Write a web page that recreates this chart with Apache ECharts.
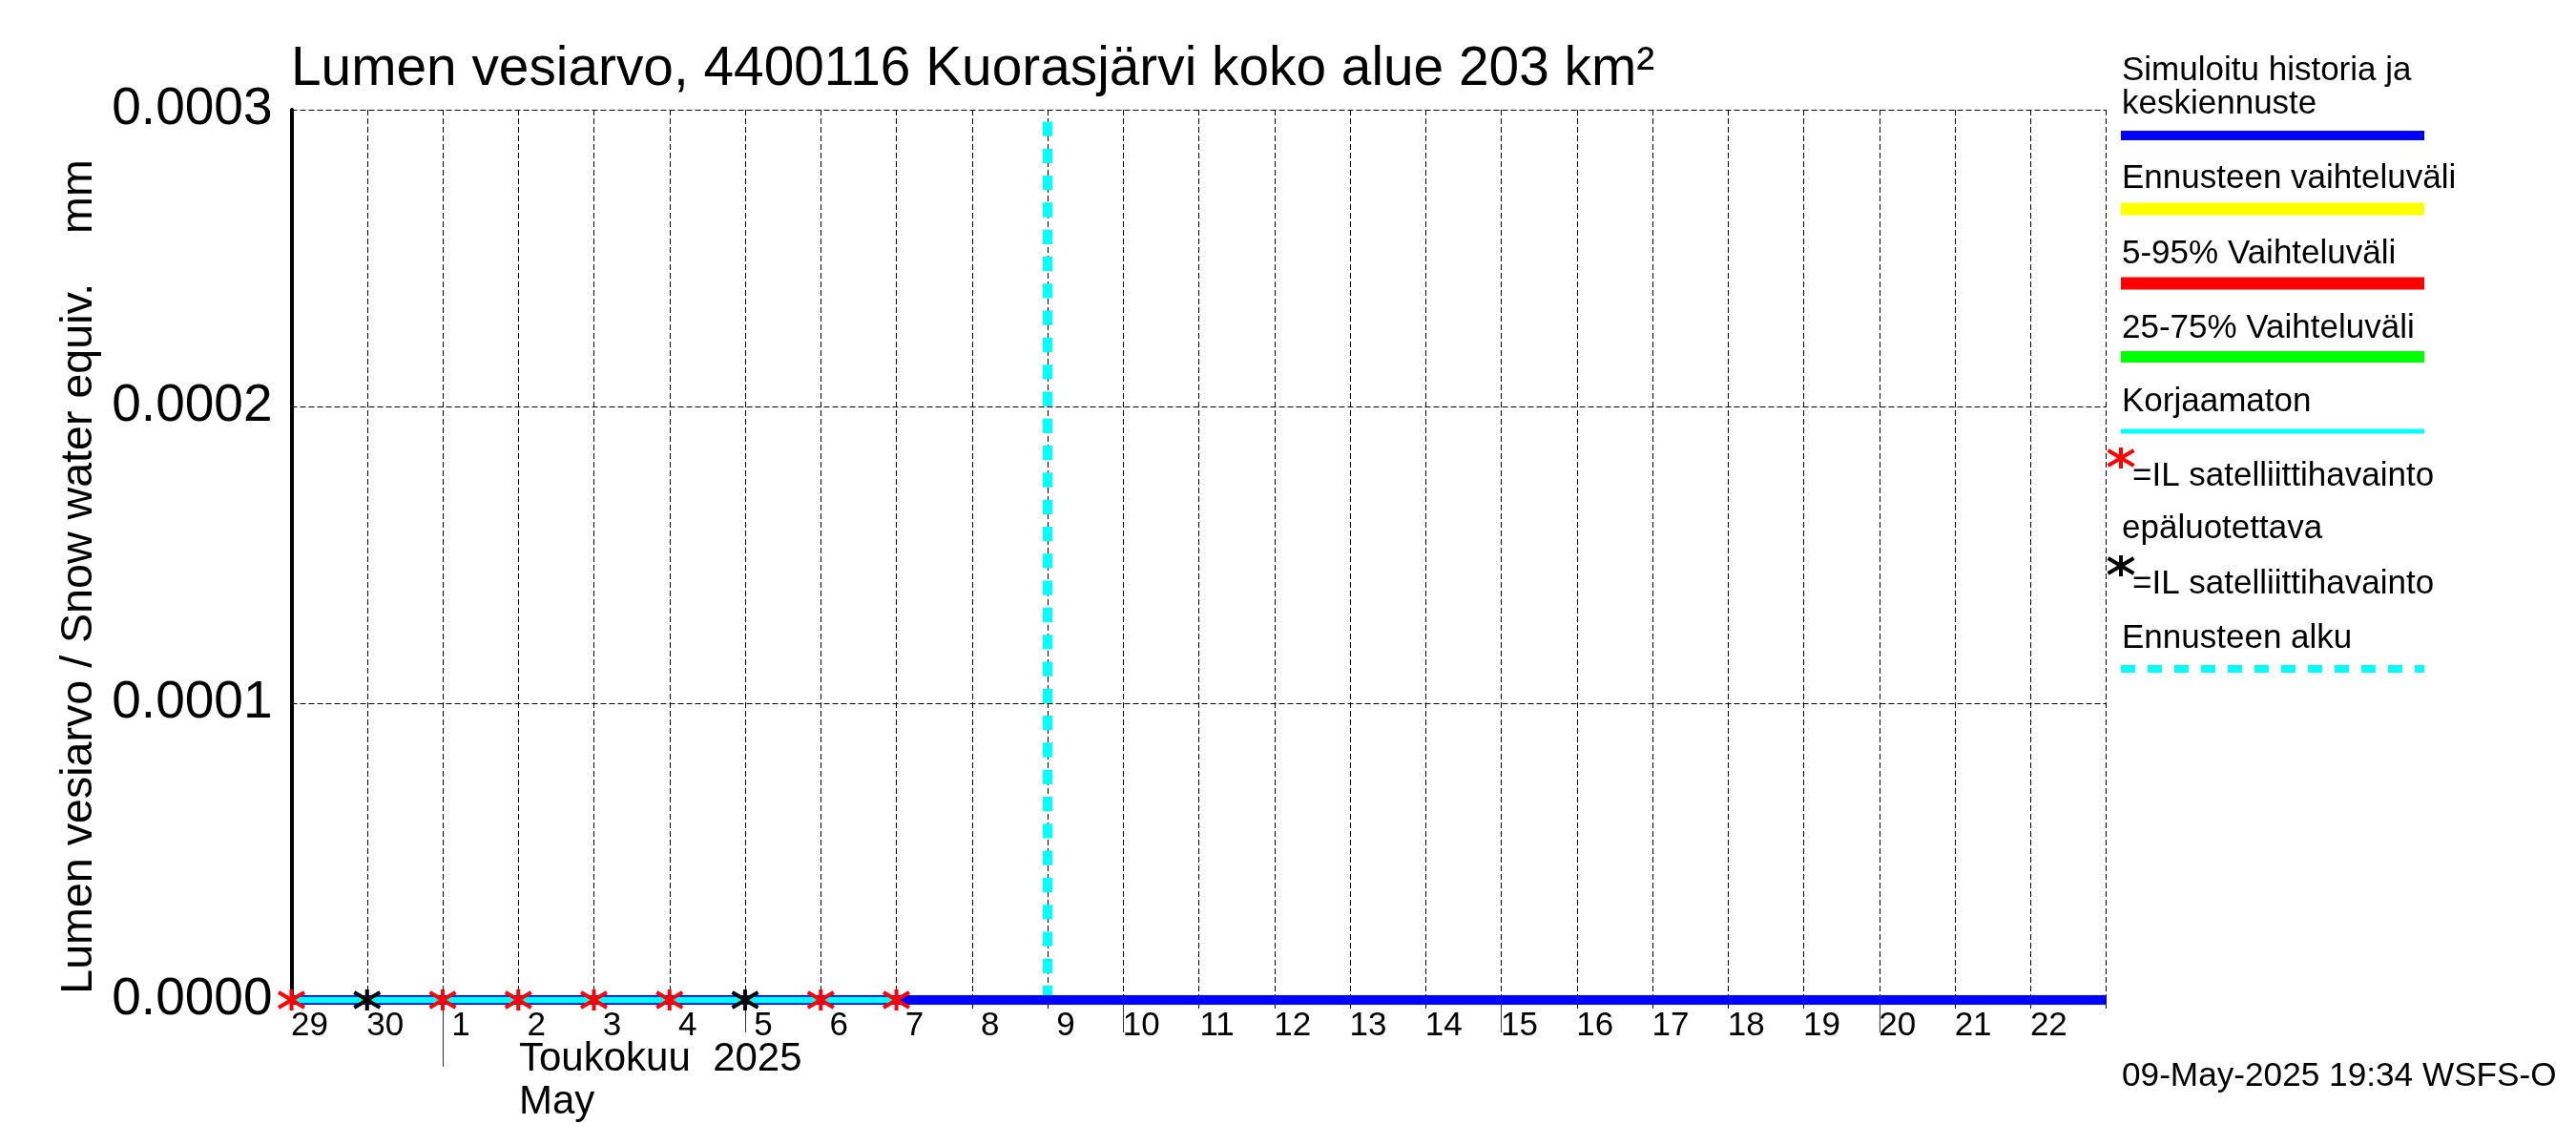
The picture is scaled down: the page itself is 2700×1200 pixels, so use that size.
<!DOCTYPE html>
<html>
<head>
<meta charset="utf-8">
<title>Lumen vesiarvo</title>
<script src="https://cdn.jsdelivr.net/npm/echarts@6/dist/echarts.min.js"></script>
<style>
  html, body { margin: 0; padding: 0; background: #fff; }
  #chart { width: 2700px; height: 1200px; }
</style>
</head>
<body>
<div id="chart"></div>
<script>
const titleText = 'Lumen vesiarvo, 4400116 Kuorasjärvi koko alue 203 km²';
const yAxisName = 'Lumen vesiarvo / Snow water equiv.    mm';
const stampText = '09-May-2025 19:34 WSFS-O';
const monthLabels = ['Toukokuu  2025', 'May'];

const days = ['29', '30', '1', '2', '3', '4', '5', '6', '7', '8', '9', '10', '11',
  '12', '13', '14', '15', '16', '17', '18', '19', '20', '21', '22', ''];

const simulated = [0, 0, 0, 0, 0, 0, 0, 0, 0, 0, 0, 0, 0, 0, 0, 0, 0, 0, 0, 0, 0, 0, 0, 0, 0];
const uncorrected = [0, 0, 0, 0, 0, 0, 0, 0, 0];
const satellite = [0, null, 0, 0, 0, 0, null, 0, 0];
const satelliteUnreliable = [null, 0, null, null, null, null, 0];
const forecastDay = '9';
const forecastTop = 0.000296;

const monthStartDays = ['1'];
const fiveDayTicks = ['5', '10', '15', '20'];

const legendTexts = [
  'Simuloitu historia ja', 'keskiennuste', 'Ennusteen vaihteluväli', '5-95% Vaihteluväli',
  '25-75% Vaihteluväli', 'Korjaamaton', '=IL satelliittihavainto', 'epäluotettava',
  '=IL satelliittihavainto', 'Ennusteen alku'
];

const FONT = '"Liberation Sans", Arial, sans-serif';
const chart = echarts.init(document.getElementById('chart'));

// Legend is laid out by hand, the original is not a regular grid
const legendTextPos = [
  [2224, 83], [2224, 118], [2224, 196], [2224, 275], [2224, 353],
  [2224, 430], [2235, 508], [2224, 563], [2235, 621], [2224, 678]
];
const legendLines = [
  { y: 142, w: 10, c: '#0000ff' },
  { y: 219, w: 13, c: '#ffff00' },
  { y: 297, w: 13, c: '#ff0000' },
  { y: 374, w: 12, c: '#00ff00' },
  { y: 452, w: 5, c: '#00ffff' },
  { y: 701, w: 8, c: '#00ffff', dash: [15, 13] }
];
const legendStars = [
  { y: 480, c: '#ff0000' },
  { y: 593, c: '#000000' }
];

// y is the text baseline
function textEl(text, x, y, size) {
  return {
    type: 'text',
    x: x,
    y: y - size * 0.75,
    silent: true,
    style: { text: text, fill: '#000', font: size + 'px ' + FONT }
  };
}

function lineEl(x1, y1, x2, y2, color, width, dash) {
  return {
    type: 'line',
    silent: true,
    shape: { x1: x1, y1: y1, x2: x2, y2: y2 },
    style: { stroke: color, lineWidth: width, lineDash: dash || null }
  };
}

// Six armed star, same shape in the plot and in the legend
function starLines(x, y, color) {
  return [
    lineEl(x, y - 11, x, y + 11, color, 4),
    lineEl(x - 13.5, y - 8, x + 13.5, y + 8, color, 4),
    lineEl(x - 13.5, y + 8, x + 13.5, y - 8, color, 4)
  ];
}

const graphics = [];
legendTexts.forEach((t, i) => graphics.push(textEl(t, legendTextPos[i][0], legendTextPos[i][1], 35)));
legendLines.forEach(l => graphics.push(lineEl(2223, l.y, 2541, l.y, l.c, l.w, l.dash)));
legendStars.forEach(s => graphics.push(...starLines(2223, s.y, s.c)));
graphics.push(textEl(stampText, 2224, 1137, 35.2));
graphics.push(textEl(monthLabels[0], 544, 1121, 42));
graphics.push(textEl(monthLabels[1], 544, 1166, 42));

// Extra axes on the same grid, only there for the longer tick marks
function tickAxis(list, length) {
  return {
    type: 'category',
    data: days,
    boundaryGap: false,
    position: 'bottom',
    axisLine: { show: false },
    axisLabel: { show: false },
    splitLine: { show: false },
    axisTick: {
      interval: (index, value) => list.includes(value),
      length: length,
      lineStyle: { color: '#333', width: 1 }
    }
  };
}

function starSeries(name, values, color) {
  return {
    name: name,
    type: 'custom',
    z: 6,
    clip: false,
    data: values.map((v, i) => [i, v]).filter(d => d[1] !== null),
    renderItem: (params, api) => {
      const p = api.coord([api.value(0), api.value(1)]);
      return { type: 'group', children: starLines(p[0], p[1], color) };
    }
  };
}

chart.setOption({
  animation: false,
  backgroundColor: '#fff',
  title: {
    text: titleText,
    left: 305,
    top: 45,
    padding: 0,
    textStyle: { fontFamily: FONT, fontWeight: 'normal', fontSize: 56.8, color: '#000' }
  },
  grid: { left: 305.5, right: 492.4, top: 115, bottom: 152 },
  xAxis: [
    {
      type: 'category',
      data: days,
      boundaryGap: false,
      axisLine: { lineStyle: { color: '#000', width: 1 } },
      axisTick: { interval: 0, length: 9, lineStyle: { color: '#000', width: 1 } },
      axisLabel: {
        interval: 0,
        margin: 10,
        align: 'center',
        padding: [0, 0, 0, 38],
        color: '#000',
        fontFamily: FONT,
        fontSize: 35
      },
      splitLine: {
        show: true,
        interval: 0,
        lineStyle: { color: '#000', width: 1, type: [6, 3] }
      }
    },
    tickAxis(monthStartDays, 70),
    tickAxis(fiveDayTicks, 34)
  ],
  yAxis: {
    type: 'value',
    min: 0,
    max: 0.0003,
    interval: 0.0001,
    name: yAxisName,
    nameLocation: 'middle',
    nameRotate: 90,
    nameGap: 198,
    nameTextStyle: {
      color: '#000',
      fontFamily: FONT,
      fontSize: 46.6,
      padding: [0, 46, 0, 0]
    },
    axisLine: { show: true, lineStyle: { color: '#000', width: 4 } },
    axisTick: { inside: true, length: 44, lineStyle: { color: '#000', width: 4 } },
    axisLabel: {
      margin: 20,
      padding: [0, 0, 24, 0],
      color: '#000',
      fontFamily: FONT,
      fontSize: 55,
      formatter: v => v.toFixed(4)
    },
    splitLine: { show: true, lineStyle: { color: '#000', width: 1, type: [6, 3] } }
  },
  series: [
    {
      name: 'Ennusteen alku',
      type: 'line',
      data: [[forecastDay, forecastTop], [forecastDay, 0]],
      showSymbol: false,
      clip: false,
      z: 3,
      lineStyle: { color: '#00ffff', width: 10, type: [15.3, 13] }
    },
    {
      name: 'Simuloitu historia ja keskiennuste',
      type: 'line',
      data: simulated,
      showSymbol: false,
      clip: false,
      z: 4,
      lineStyle: { color: '#0000ff', width: 10 }
    },
    {
      name: 'Korjaamaton',
      type: 'line',
      data: uncorrected,
      showSymbol: false,
      clip: false,
      z: 5,
      lineStyle: { color: '#00ffff', width: 6.5 }
    },
    starSeries('IL satelliittihavainto', satellite, '#ff0000'),
    starSeries('IL satelliittihavainto epäluotettava', satelliteUnreliable, '#000000')
  ],
  graphic: graphics
});
</script>
</body>
</html>
